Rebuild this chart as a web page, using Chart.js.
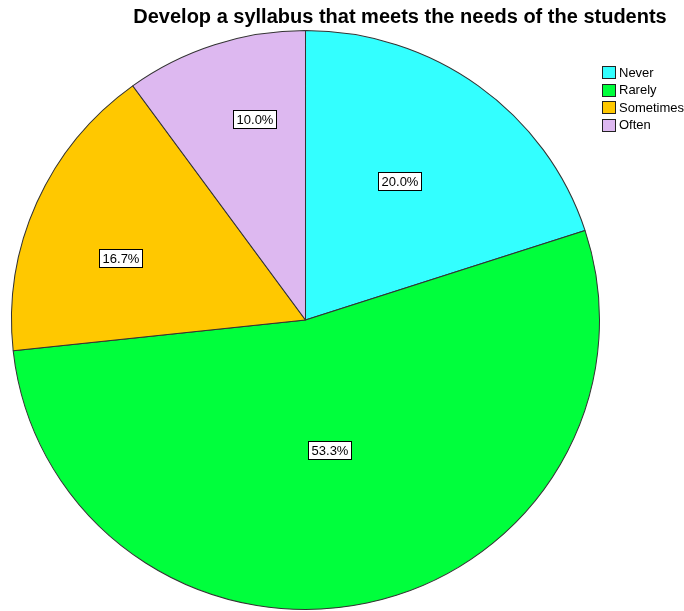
<!DOCTYPE html>
<html>
<head>
<meta charset="utf-8">
<script src="https://cdn.jsdelivr.net/npm/chart.js@4.4.0/dist/chart.umd.min.js"></script>
<style>
  body { margin: 0; background: #fff; }
  #wrap { width: 684px; height: 611px; }
</style>
</head>
<body>
<div id="wrap"><canvas id="pie" width="684" height="611"></canvas></div>
<script>
const categories = ["Never", "Rarely", "Sometimes", "Often"];
const percents = [20.0, 53.3, 16.7, 10.0];
const slice_colors = ["#33FFFF", "#00FF3C", "#FFC800", "#DDB8F0"];
const title_text = "Develop a syllabus that meets the needs of the students";

// label boxes: fraction of the radius, and a small turn (degrees) off the mid angle
const label_dist = [0.576, 0.455, 0.664, 0.717];
const label_turn = [-2.4, 1.8, -5.2, 4.0];
// the original pie is a touch wider than tall
const x_stretch = 1.0155;

const stretch = {
    id: "stretch",
    beforeDatasetsDraw(chart) {
        const a = chart.chartArea;
        const cx = (a.left + a.right) / 2;
        chart.ctx.save();
        chart.ctx.translate(cx, 0);
        chart.ctx.scale(x_stretch, 1);
        chart.ctx.translate(-cx, 0);
    },
    afterDatasetsDraw(chart) {
        chart.ctx.restore();
    }
};

const extras = {
    id: "extras",
    afterDraw(chart) {
        const ctx = chart.ctx;
        const meta = chart.getDatasetMeta(0);
        ctx.save();
        ctx.font = "13px Arial, 'Liberation Sans', sans-serif";
        ctx.textBaseline = "middle";
        ctx.textAlign = "center";
        meta.data.forEach((arc, i) => {
            const p = arc.getProps(["x", "y", "startAngle", "endAngle", "outerRadius"], true);
            const mid = (p.startAngle + p.endAngle) / 2 + label_turn[i] * Math.PI / 180;
            const r = p.outerRadius * label_dist[i];
            const x = p.x + Math.cos(mid) * r * x_stretch;
            const y = p.y + Math.sin(mid) * r;
            const txt = percents[i].toFixed(1) + "%";
            const w = Math.round(ctx.measureText(txt).width + 6);
            const h = 18;
            const bx = Math.round(x - w / 2) + 0.5;
            const by = Math.round(y - h / 2) + 0.5;
            ctx.fillStyle = "#fff";
            ctx.fillRect(bx, by, w, h);
            ctx.strokeStyle = "#000";
            ctx.lineWidth = 1;
            ctx.strokeRect(bx, by, w, h);
            ctx.fillStyle = "#000";
            ctx.fillText(txt, bx + w / 2, by + h / 2 + 0.5);
        });

        // title
        ctx.font = "bold 20px Arial, 'Liberation Sans', sans-serif";
        ctx.textAlign = "center";
        ctx.fillText(title_text, 400, 17);

        // legend
        ctx.font = "13px Arial, 'Liberation Sans', sans-serif";
        ctx.textAlign = "left";
        categories.forEach((c, i) => {
            const y = 72.5 + i * 17.5;
            const by = Math.round(y - 6.5) + 0.5;
            ctx.fillStyle = slice_colors[i];
            ctx.fillRect(602.5, by, 13, 12);
            ctx.strokeStyle = "#222";
            ctx.strokeRect(602.5, by, 13, 12);
            ctx.fillStyle = "#000";
            ctx.fillText(c, 619, y + 0.5);
        });
        ctx.restore();
    }
};

const pie_ctx = document.getElementById("pie").getContext("2d");

const pie_config = {
    type: 'pie',
    data: {
        labels: categories,
        datasets: [
            {
                data: percents,
                backgroundColor: slice_colors,
                borderColor: "#333",
                borderWidth: 1,
            }
        ]
    },
    options: {
        responsive: false,
        animation: false,
        layout: {
            padding: { top: 30, bottom: 1, left: 15.5, right: 88.5 }
        },
        plugins: {
            legend: { display: false },
            title: { display: false },
            tooltip: { enabled: false }
        }
    },
    plugins: [stretch, extras]
};

const pie_chart = new Chart(pie_ctx, pie_config);
</script>
</body>
</html>
